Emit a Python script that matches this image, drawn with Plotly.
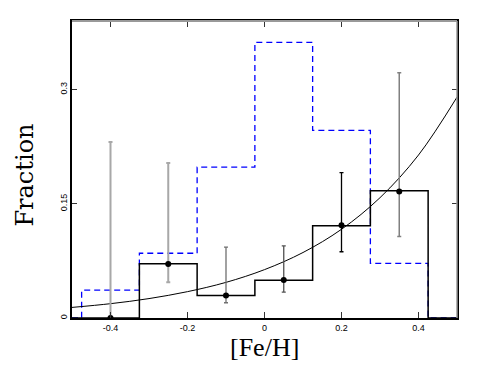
import plotly.graph_objects as go

# ---- data ----
bin_edges = [-0.5, -0.475, -0.325, -0.175, -0.025, 0.125, 0.275, 0.425, 0.5]
all_sample = [0.0, 0.0365, 0.085, 0.198, 0.362, 0.2465, 0.0717, 0.0]
planet_frac = [0.0, 0.0, 0.0713, 0.0296, 0.0496, 0.1213, 0.167, 0.0]

pt_x = [-0.4, -0.25, -0.1, 0.05, 0.2, 0.35]
pt_y = [0.0, 0.0709, 0.0296, 0.05, 0.1217, 0.166]
err_hi = [0.231, 0.2035, 0.093, 0.0948, 0.191, 0.322]
err_lo = [0.0, 0.047, 0.020, 0.034, 0.087, 0.107]
err_col = ["#a8a8a8", "#a8a8a8", "#707070", "#505050", "#000000", "#808080"]
err_w = [2, 2, 1.3, 1.3, 1.3, 1.5]

fit_x = [-0.5, -0.4, -0.3, -0.2, -0.1, 0.0, 0.1, 0.2, 0.3, 0.4, 0.5]
fit_y = [0.0139, 0.0188, 0.0255, 0.0346, 0.0468, 0.0635, 0.0860, 0.1165, 0.158, 0.214, 0.290]

x_ticks = [-0.4, -0.2, 0, 0.2, 0.4]
x_tick_text = ["-0.4", "-0.2", "0", "0.2", "0.4"]
y_ticks = [0, 0.15, 0.3]
y_tick_text = ["0", "0.15", "0.3"]

fig = go.Figure()

fig.add_trace(go.Scatter(x=bin_edges, y=all_sample + [all_sample[-1]], mode="lines",
                         line=dict(shape="hv", color="#0000ff", width=1.3, dash="6px,4px"),
                         showlegend=False, hoverinfo="skip"))
fig.add_trace(go.Scatter(x=fit_x, y=fit_y, mode="lines",
                         line=dict(shape="spline", color="black", width=1),
                         showlegend=False, hoverinfo="skip"))
fig.add_trace(go.Scatter(x=bin_edges, y=planet_frac + [planet_frac[-1]], mode="lines",
                         line=dict(shape="hv", color="black", width=1.5),
                         showlegend=False, hoverinfo="skip"))

for i in range(len(pt_x)):
    fig.add_trace(go.Scatter(
        x=[pt_x[i]], y=[pt_y[i]], mode="markers",
        marker=dict(color="black", size=6),
        error_y=dict(type="data", symmetric=False,
                     array=[err_hi[i] - pt_y[i]], arrayminus=[pt_y[i] - err_lo[i]],
                     color=err_col[i], thickness=err_w[i], width=2),
        showlegend=False, hoverinfo="skip"))

tick_font = dict(family="Liberation Sans, Arial, sans-serif", size=9, color="black")

fig.update_xaxes(range=[-0.5, 0.5], tickvals=x_ticks, ticktext=x_tick_text,
                 showline=True, linecolor="black", linewidth=1.5, mirror="ticks",
                 ticks="inside", ticklen=6, tickcolor="#333", tickwidth=1,
                 showgrid=False, zeroline=False, tickfont=tick_font)
fig.update_yaxes(range=[0, 0.39], tickvals=y_ticks, ticktext=y_tick_text,
                 showline=True, linecolor="black", linewidth=1.5, mirror="ticks",
                 ticks="inside", ticklen=5, tickcolor="#333", tickwidth=1,
                 showgrid=False, zeroline=False, tickfont=tick_font, tickangle=-90)

fig.update_layout(
    width=462, height=359,
    margin=dict(l=64, r=12, t=11, b=49),
    paper_bgcolor="white", plot_bgcolor="white",
    shapes=[
        dict(type="line", xref="paper", yref="paper", x0=0, x1=1, y0=1, y1=1,
             line=dict(color="#999999", width=2)),
        dict(type="line", xref="paper", yref="paper", x0=1, x1=1, y0=0, y1=1,
             line=dict(color="#999999", width=1.5)),
    ],
    annotations=[
        dict(text="Fraction", xref="paper", yref="paper", x=-47 / 386, y=0.48,
             xanchor="center", yanchor="middle", showarrow=False, textangle=-90,
             font=dict(family="DejaVu Serif, serif", size=24, color="black")),
        dict(text="[Fe/H]", xref="paper", yref="paper", x=0.5, y=-30 / 299,
             xanchor="center", yanchor="middle", showarrow=False,
             font=dict(family="Liberation Serif, Times New Roman, serif", size=26, color="black")),
    ],
)

fig.write_html("out.html")
